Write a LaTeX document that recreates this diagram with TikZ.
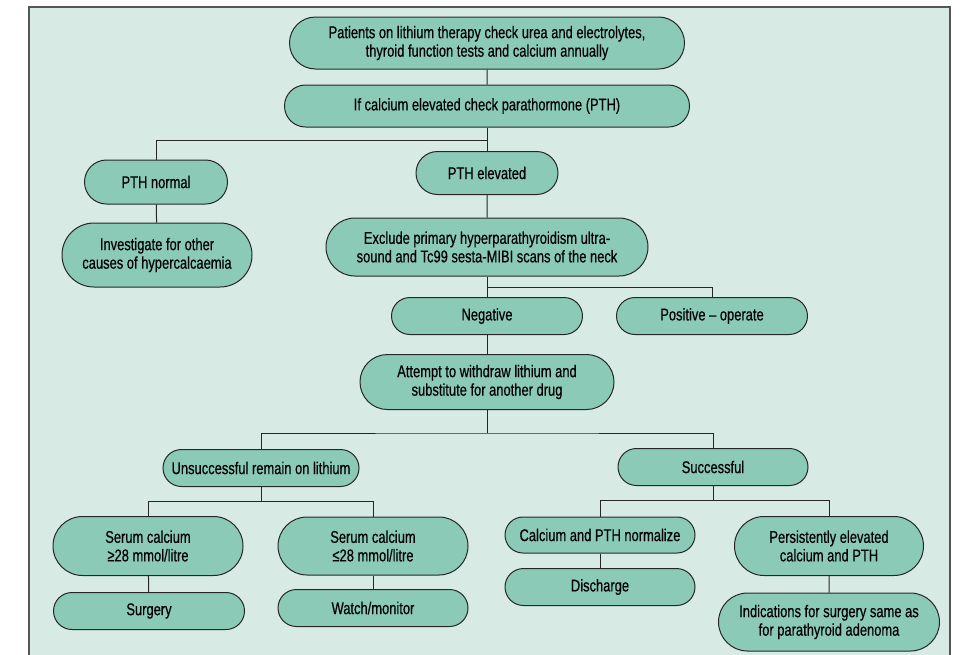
\documentclass[tikz,border=0pt]{standalone}
\usepackage{fontspec}
\setmainfont{Liberation Sans}[FakeStretch=0.76, FakeBold=0.4]
\usetikzlibrary{shapes.misc}
\definecolor{panelgreen}{HTML}{D7EBE4}
\definecolor{boxgreen}{HTML}{8CCAB8}
\definecolor{edgegrey}{HTML}{262626}
\definecolor{framegrey}{HTML}{555555}

\begin{document}
\begin{tikzpicture}[x=1pt, y=-1pt,
    box/.style={rounded rectangle, draw=edgegrey, fill=boxgreen, line width=1pt, align=center, inner sep=2pt, minimum height=37pt, font=\fontsize{17}{18.5}\selectfont},
    link/.style={draw=edgegrey, line width=1pt}
]
\useasboundingbox (0,0) rectangle (963,654);

% Panel
\draw[framegrey, fill=panelgreen, line width=1.2pt] (29,670) -- (29,7) -- (950,7) -- (950,670);

% Top of the chart
\node[box, minimum width=399pt, minimum height=52pt] (annual) at (487,43) {Patients on lithium therapy check urea and electrolytes,\\thyroid function tests and calcium annually};
\node[box, minimum width=409pt, minimum height=42pt] (checkpth) at (487,106) {If calcium elevated check parathormone (PTH)};

% PTH result
\node[box, minimum width=147pt, minimum height=44pt] (pthnormal) at (156,182) {PTH normal};
\node[box, minimum width=146pt, minimum height=43pt] (pthhigh) at (487,173) {PTH elevated};
\node[box, minimum width=194pt, minimum height=64pt] (otherc) at (157,255) {Investigate for other\\causes of hypercalcaemia};

% Scans
\node[box, minimum width=326pt, minimum height=58pt] (exclude) at (487,247) {Exclude primary hyperparathyroidism ultra-\\sound and Tc99 sesta-MIBI scans of the neck};
\node[box, minimum width=195pt] (negative) at (487,316) {Negative};
\node[box, minimum width=195pt] (positive) at (712,316) {Positive -- operate};
\node[box, minimum width=258pt, minimum height=55pt] (withdraw) at (487,382) {Attempt to withdraw lithium and\\substitute for another drug};

% Withdrawal outcome
\node[box, minimum width=200pt] (unsucc) at (261,468) {Unsuccessful remain on lithium};
\node[box, minimum width=194pt] (succ) at (713,467) {Successful};

% Unsuccessful branch
\node[box, minimum width=194pt, minimum height=59pt] (cahigh) at (148,546) {Serum calcium\\≥28 mmol/litre};
\node[box, minimum width=194pt, minimum height=58pt] (calow) at (373,546) {Serum calcium\\≤28 mmol/litre};
\node[box, minimum width=195pt] (surgery) at (149,611) {Surgery};
\node[box, minimum width=194pt] (monitor) at (373,608) {Watch/monitor};

% Successful branch
\node[box, minimum width=194pt, minimum height=36pt] (normal) at (600,535) {Calcium and PTH normalize};
\node[box, minimum width=194pt] (discharge) at (600,587) {Discharge};
\node[box, minimum width=193pt, minimum height=59pt] (persist) at (829,546) {Persistently elevated\\calcium and PTH};
\node[box, minimum width=225pt, minimum height=58pt] (adenoma) at (829,622) {Indications for surgery same as\\for parathyroid adenoma};

% Junctions
\coordinate (j1) at (487,140);
\coordinate (j2) at (487,287);
\coordinate (j3) at (487,433);
\coordinate (j4) at (261,501);
\coordinate (j5) at (713,500);

% Connectors
\draw[link] (annual) -- (checkpth);
\draw[link] (checkpth) -- (pthhigh);
\draw[link] (pthnormal.north) |- (j1);
\draw[link] (pthnormal) -- (otherc);
\draw[link] (pthhigh) -- (exclude);
\draw[link] (exclude) -- (negative);
\draw[link] (j2) -| (positive.north);
\draw[link] (negative) -- (withdraw);
\draw[link] (withdraw.south) -- (j3);
\draw[link] (unsucc.north) |- (j3) -| (succ.north);
\draw[link] (unsucc.south) -- (j4);
\draw[link] (cahigh.north) |- (j4) -| (calow.north);
\draw[link] (succ.south) -- (j5);
\draw[link] (normal.north) |- (j5) -| (persist.north);
\draw[link] (cahigh) -- (surgery);
\draw[link] (calow) -- (monitor);
\draw[link] (normal) -- (discharge);
\draw[link] (persist) -- (adenoma);

\end{tikzpicture}
\end{document}
